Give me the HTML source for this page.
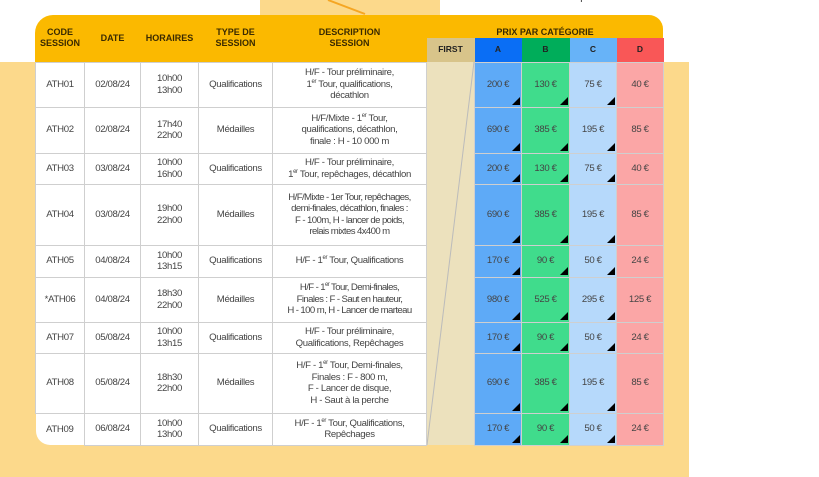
<!DOCTYPE html>
<html><head><meta charset="utf-8"><style>
body{margin:0;width:819px;height:477px;background:#fff;position:relative;overflow:hidden;font-family:"Liberation Sans Narrow","Liberation Sans",sans-serif;}
.bg{position:absolute;background:#fcd98b}
table{position:absolute;left:35px;top:15px;border-collapse:collapse;table-layout:fixed;width:628px}
td{border:1px solid #cfcfcf;text-align:center;vertical-align:middle;font-size:9.6px;letter-spacing:-0.35px;color:#444;line-height:11.5px;padding:0;position:relative;white-space:nowrap}
tr.h td{border:none;background:#fbb900;color:#3a2a00;font-weight:bold;font-size:9px;line-height:11px;letter-spacing:0}
tr.s td{border:none;font-weight:bold;font-size:8.5px;color:#222;letter-spacing:0}
.w{background:#fff}
.a{background:#5eaaf7}.b{background:#40dc8c}.c{background:#b6d9fb}.d{background:#fba6a6}
.f{background:#ece1bd;border:none}
.t:after{content:"";position:absolute;right:1px;bottom:2px;border-style:solid;border-width:0 0 8px 8px;border-color:transparent transparent #000 transparent}
sup{font-size:6px;line-height:0}
</style></head><body>
<div class="bg" style="left:260px;top:0;width:180px;height:15px"></div>
<svg style="position:absolute;left:0;top:0" width="819" height="20"><line x1="328" y1="0" x2="365" y2="14" stroke="#f5a623" stroke-width="2"/></svg>
<div style="position:absolute;left:500px;top:-8px;font-size:10px;color:#333">tickets d'accès disponibles</div>
<div class="bg" style="left:0;top:62px;width:689px;height:415px"></div>
<div style="position:absolute;left:35px;top:15px;width:628px;height:47px;background:#fbb900;border-radius:18px 14px 0 0"></div>
<table>
<colgroup><col style="width:49px"><col style="width:56px"><col style="width:58px"><col style="width:74px"><col style="width:154px"><col style="width:48px"><col style="width:47px"><col style="width:48px"><col style="width:47px"><col style="width:47px"></colgroup>
<tr class="h" style="height:23px"><td rowspan="2" style="background:transparent">CODE<br>SESSION</td><td rowspan="2" style="background:transparent">DATE</td><td rowspan="2" style="background:transparent">HORAIRES</td><td rowspan="2" style="background:transparent">TYPE DE<br>SESSION</td><td rowspan="2" style="background:transparent">DESCRIPTION<br>SESSION</td><td colspan="5" style="background:transparent;vertical-align:bottom">PRIX PAR CATÉGORIE</td></tr>
<tr class="s" style="height:24px"><td style="background:#d8c48a">FIRST</td><td style="background:#0a6ef5">A</td><td style="background:#00ad5a">B</td><td style="background:#67b3f8">C</td><td style="background:#f95757">D</td></tr>
<tr style="height:45px"><td class="w">ATH01</td><td class="w">02/08/24</td><td class="w">10h00<br>13h00</td><td class="w">Qualifications</td><td class="w">H/F - Tour préliminaire,<br>1<sup>er</sup> Tour, qualifications,<br>décathlon</td><td class="f" rowspan="9"><svg width="48" height="383" style="display:block"><line x1="47" y1="0" x2="0" y2="383" stroke="#bbb" stroke-width="1"/></svg></td><td class="a t">200 €</td><td class="b t">130 €</td><td class="c t">75 €</td><td class="d">40 €</td></tr>
<tr style="height:46px"><td class="w">ATH02</td><td class="w">02/08/24</td><td class="w">17h40<br>22h00</td><td class="w">Médailles</td><td class="w">H/F/Mixte - 1<sup>er</sup> Tour,<br>qualifications, décathlon,<br>finale : H - 10 000 m</td><td class="a t">690 €</td><td class="b t">385 €</td><td class="c t">195 €</td><td class="d">85 €</td></tr>
<tr style="height:31px"><td class="w">ATH03</td><td class="w">03/08/24</td><td class="w">10h00<br>16h00</td><td class="w">Qualifications</td><td class="w">H/F - Tour préliminaire,<br>1<sup>er</sup> Tour, repêchages, décathlon</td><td class="a t">200 €</td><td class="b t">130 €</td><td class="c t">75 €</td><td class="d">40 €</td></tr>
<tr style="height:61px"><td class="w">ATH04</td><td class="w">03/08/24</td><td class="w">19h00<br>22h00</td><td class="w">Médailles</td><td class="w" style="letter-spacing:-0.6px">H/F/Mixte - 1er Tour, repêchages,<br>demi-finales, décathlon, finales :<br>F - 100m, H - lancer de poids,<br>relais mixtes 4x400 m</td><td class="a t">690 €</td><td class="b t">385 €</td><td class="c t">195 €</td><td class="d">85 €</td></tr>
<tr style="height:32px"><td class="w">ATH05</td><td class="w">04/08/24</td><td class="w">10h00<br>13h15</td><td class="w">Qualifications</td><td class="w">H/F - 1<sup>er</sup> Tour, Qualifications</td><td class="a t">170 €</td><td class="b t">90 €</td><td class="c t">50 €</td><td class="d">24 €</td></tr>
<tr style="height:45px"><td class="w">*ATH06</td><td class="w">04/08/24</td><td class="w">18h30<br>22h00</td><td class="w">Médailles</td><td class="w" style="letter-spacing:-0.6px">H/F - 1<sup>er</sup> Tour, Demi-finales,<br>Finales : F - Saut en hauteur,<br>H - 100 m, H - Lancer de marteau</td><td class="a t">980 €</td><td class="b t">525 €</td><td class="c t">295 €</td><td class="d">125 €</td></tr>
<tr style="height:31px"><td class="w">ATH07</td><td class="w">05/08/24</td><td class="w">10h00<br>13h15</td><td class="w">Qualifications</td><td class="w">H/F - Tour préliminaire,<br>Qualifications, Repêchages</td><td class="a t">170 €</td><td class="b t">90 €</td><td class="c t">50 €</td><td class="d">24 €</td></tr>
<tr style="height:60px"><td class="w">ATH08</td><td class="w">05/08/24</td><td class="w">18h30<br>22h00</td><td class="w">Médailles</td><td class="w">H/F - 1<sup>er</sup> Tour, Demi-finales,<br>Finales : F - 800 m,<br>F - Lancer de disque,<br>H - Saut à la perche</td><td class="a t">690 €</td><td class="b t">385 €</td><td class="c t">195 €</td><td class="d">85 €</td></tr>
<tr style="height:32px"><td class="w" style="border-bottom-left-radius:14px;border-left:none;border-bottom:none">ATH09</td><td class="w">06/08/24</td><td class="w">10h00<br>13h00</td><td class="w">Qualifications</td><td class="w">H/F - 1<sup>er</sup> Tour, Qualifications,<br>Repêchages</td><td class="a t">170 €</td><td class="b t">90 €</td><td class="c t">50 €</td><td class="d">24 €</td></tr>
</table>
</body></html>
